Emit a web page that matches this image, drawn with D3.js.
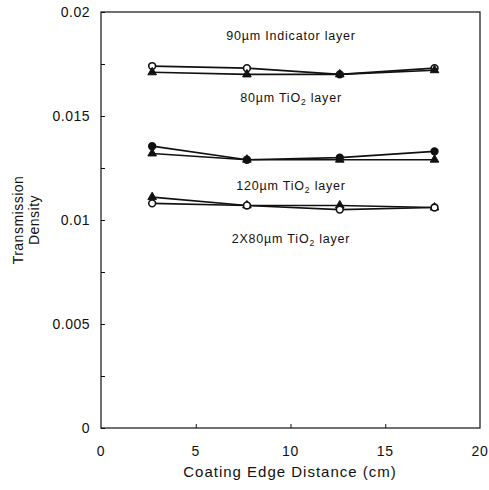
<!DOCTYPE html>
<html><head><meta charset="utf-8">
<script src="https://cdn.jsdelivr.net/npm/d3@7"></script>
<style>body{margin:0;background:#fff}svg{display:block}text{font-family:"Liberation Sans",Arial,sans-serif;fill:#111}</style>
</head><body>
<svg id="c" width="489" height="490"></svg>
<script>
const distances = [2.7, 7.7, 12.6, 17.6];
const ind90Circle = [0.0174, 0.0173, 0.0170, 0.0173];
const ind90Tri = [0.0171, 0.0170, 0.0170, 0.0172];
const tio80Circle = [0.01355, 0.0129, 0.0130, 0.0133];
const tio80Tri = [0.0132, 0.0129, 0.0129, 0.0129];
const tio120Tri = [0.0111, 0.0107, 0.0107, 0.0106];
const tio2x80Circle = [0.0108, 0.0107, 0.0105, 0.0106];
const xTicks = [0, 5, 10, 15, 20];
const yTicks = [0, 0.005, 0.01, 0.015, 0.02];
const yMinor = [0.0025, 0.0075, 0.0125, 0.0175];
const layerLabels = [
  {parts:["90µm Indicator layer"], y:0.01866},
  {parts:["80µm TiO","2"," layer"], y:0.01566},
  {parts:["120µm TiO","2"," layer"], y:0.01143},
  {parts:["2X80µm TiO","2"," layer"], y:0.0089}
];
const series = [
  {v: ind90Circle, m:"circle", fill:"#fff"},
  {v: ind90Tri, m:"tri", fill:"#111"},
  {v: tio80Circle, m:"circle", fill:"#111"},
  {v: tio80Tri, m:"tri", fill:"#111"},
  {v: tio120Tri, m:"tri", fill:"#111"},
  {v: tio2x80Circle, m:"circle", fill:"#fff"}
];

const svg = d3.select("#c");
const x = d3.scaleLinear().domain([0,20]).range([101,480]);
const y = d3.scaleLinear().domain([0,0.02]).range([428,12]);

// frame
svg.append("rect").attr("x",x(0)).attr("y",y(0.02)).attr("width",x(20)-x(0)).attr("height",y(0)-y(0.02))
  .attr("fill","none").attr("stroke","#111").attr("stroke-width",1.2);

// y axis
const ya = svg.append("g").attr("transform",`translate(${x(0)},0)`)
  .call(d3.axisRight(y).tickValues(yTicks.concat(yMinor)).tickSize(4).tickFormat(""));
ya.select(".domain").remove();
ya.selectAll("line").attr("stroke","#111");
svg.selectAll(".ylab").data(yTicks).join("text").attr("class","ylab")
  .attr("x",90).attr("y",d=>y(d)+5).attr("text-anchor","end").attr("font-size",14).attr("letter-spacing",0.5)
  .text(d=>d3.format("")(d));

// x axis
const xa = svg.append("g").attr("transform",`translate(0,${y(0)})`)
  .call(d3.axisTop(x).tickValues(xTicks.slice(1,-1)).tickSize(4).tickFormat(""));
xa.select(".domain").remove();
xa.selectAll("line").attr("stroke","#111");
svg.selectAll(".xlab").data(xTicks).join("text").attr("class","xlab")
  .attr("x",d=>x(d)).attr("y",456).attr("text-anchor","middle").attr("font-size",14).attr("letter-spacing",0.8)
  .text(d=>d);

svg.append("text").attr("x",290).attr("y",477).attr("text-anchor","middle").attr("font-size",15)
  .attr("letter-spacing",1).text("Coating Edge Distance (cm)");
svg.append("text").attr("transform","translate(23,220) rotate(-90)").attr("text-anchor","middle")
  .attr("font-size",14).attr("letter-spacing",0.5).text("Transmission");
svg.append("text").attr("transform","translate(39,220) rotate(-90)").attr("text-anchor","middle")
  .attr("font-size",14).attr("letter-spacing",0.5).text("Density");

// lines
const line = d3.line().x((d,i)=>x(distances[i])).y(d=>y(d));
series.forEach(s=>{
  svg.append("path").datum(s.v).attr("d",line).attr("fill","none").attr("stroke","#111").attr("stroke-width",1.6);
});
const tri = d3.symbol().type(d3.symbolTriangle).size(32);
series.forEach(s=>{
  const g = svg.append("g");
  s.v.forEach((d,i)=>{
    if (s.m==="circle") {
      g.append("circle").attr("cx",x(distances[i])).attr("cy",y(d)).attr("r",3.4)
        .attr("fill",s.fill).attr("stroke","#111").attr("stroke-width",1.6);
    } else {
      g.append("path").attr("d",tri()).attr("transform",`translate(${x(distances[i])},${y(d)})`)
        .attr("fill",s.fill).attr("stroke","#111").attr("stroke-width",1);
    }
  });
});

// layer labels
layerLabels.forEach(l=>{
  const t = svg.append("text").attr("x",291).attr("y",y(l.y)).attr("text-anchor","middle")
    .attr("font-size",12.5).attr("letter-spacing",0.8);
  l.parts.forEach((p,i)=>{
    const ts = t.append("tspan").text(p);
    if (i===1) ts.attr("font-size",8.5).attr("dy",3);
    if (i===2) ts.attr("dy",-3);
  });
});
</script>
</body></html>
